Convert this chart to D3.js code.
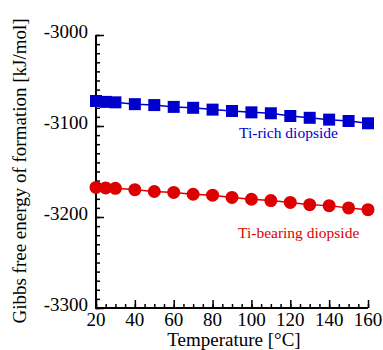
<!DOCTYPE html>
<head>
  <meta charset="utf-8">
  <script src="https://d3js.org/d3.v7.min.js"></script>
  <style>
    body { margin:0; background:white; }
  </style>
</head>
<body>
<script>
  // temperatures (degC)
  const temps = [20, 25, 30, 40, 50, 60, 70, 80, 90, 100, 110, 120, 130, 140, 150, 160];
  // Gibbs free energy of formation (kJ/mol)
  const tiRich = [-3072.5, -3073.5, -3074, -3076, -3077, -3079, -3080, -3082, -3083.5, -3085, -3086, -3089, -3091, -3093, -3094.5, -3097];
  const tiBearing = [-3167.5, -3168, -3168.5, -3170, -3172, -3173, -3175, -3176, -3178.5, -3180.5, -3182, -3184, -3186.5, -3187.5, -3190, -3192];
  const xTicks = [20, 40, 60, 80, 100, 120, 140, 160];
  const yTicks = [-3300, -3200, -3100, -3000];

  const width = 383, height = 350;
  const mLeft = 96, mRight = 368, mTop = 35, mBottom = 308;
  const font = '"Liberation Serif"';

  const svg = d3.select('body').append('svg')
    .attr('width', width)
    .attr('height', height);

  const x = d3.scaleLinear().domain([20, 160]).range([mLeft, mRight]);
  const y = d3.scaleLinear().domain([-3300, -3000]).range([mBottom, mTop]);

  // minor ticks
  const xAxisMinor = d3.axisTop(x).tickValues(d3.range(20, 161, 5)).tickSize(4).tickFormat('');
  const yAxisMinor = d3.axisRight(y).tickValues(d3.range(-3300, -2999, 10)).tickSize(4).tickFormat('');
  const xAxisMajor = d3.axisTop(x).tickValues(xTicks).tickSize(8).tickFormat('');
  const yAxisMajor = d3.axisRight(y).tickValues(yTicks).tickSize(8).tickFormat('');

  [xAxisMinor, xAxisMajor].forEach(ax => {
    svg.append('g').attr('transform', `translate(0,${mBottom})`).call(ax)
      .call(g => g.selectAll('line').attr('stroke', 'black').attr('stroke-width', 1.5))
      .call(g => g.select('.domain').remove());
  });
  [yAxisMinor, yAxisMajor].forEach(ax => {
    svg.append('g').attr('transform', `translate(${mLeft},0)`).call(ax)
      .call(g => g.selectAll('line').attr('stroke', 'black').attr('stroke-width', 1.5))
      .call(g => g.select('.domain').remove());
  });

  // axis lines
  svg.append('path')
    .attr('d', `M${mLeft},${mTop}V${mBottom}H${mRight}`)
    .attr('fill', 'none')
    .attr('stroke', 'black')
    .attr('stroke-width', 2);

  // tick labels
  svg.append('g').selectAll('text')
    .data(yTicks).enter().append('text')
    .attr('x', mLeft - 8)
    .attr('y', d => y(d) - 3)
    .attr('dy', '0.32em')
    .attr('text-anchor', 'end')
    .attr('font-family', font)
    .attr('font-size', 19)
    .text(d => d);

  svg.append('g').selectAll('text')
    .data(xTicks).enter().append('text')
    .attr('x', d => x(d))
    .attr('y', 326)
    .attr('text-anchor', 'middle')
    .attr('font-family', font)
    .attr('font-size', 19)
    .text(d => d);

  // axis titles
  svg.append('text')
    .attr('x', 234).attr('y', 346)
    .attr('text-anchor', 'middle')
    .attr('font-family', font)
    .attr('font-size', 19)
    .text('Temperature [°C]');

  svg.append('text')
    .attr('transform', 'translate(26,171) rotate(-90)')
    .attr('text-anchor', 'middle')
    .attr('font-family', font)
    .attr('font-size', 19)
    .text('Gibbs free energy of formation [kJ/mol]');

  const line = d3.line().x((d, i) => x(temps[i])).y(d => y(d));

  const blue = '#0000cc', red = '#dd0000';

  // Ti-rich diopside
  svg.append('path').datum(tiRich)
    .attr('d', line).attr('fill', 'none')
    .attr('stroke', blue).attr('stroke-width', 1.5);
  svg.append('g').selectAll('rect')
    .data(tiRich).enter().append('rect')
    .attr('x', (d, i) => x(temps[i]) - 6)
    .attr('y', d => y(d) - 6)
    .attr('width', 12).attr('height', 12)
    .attr('fill', blue);

  // Ti-bearing diopside
  svg.append('path').datum(tiBearing)
    .attr('d', line).attr('fill', 'none')
    .attr('stroke', red).attr('stroke-width', 1.5);
  svg.append('g').selectAll('circle')
    .data(tiBearing).enter().append('circle')
    .attr('cx', (d, i) => x(temps[i]))
    .attr('cy', d => y(d))
    .attr('r', 6.5)
    .attr('fill', red);

  svg.append('text')
    .attr('x', 239).attr('y', 138)
    .attr('font-family', font)
    .attr('font-size', 15.5)
    .attr('fill', blue)
    .text('Ti-rich diopside');

  svg.append('text')
    .attr('x', 238).attr('y', 238)
    .attr('font-family', font)
    .attr('font-size', 15.5)
    .attr('fill', red)
    .text('Ti-bearing diopside');
</script>
</body>
